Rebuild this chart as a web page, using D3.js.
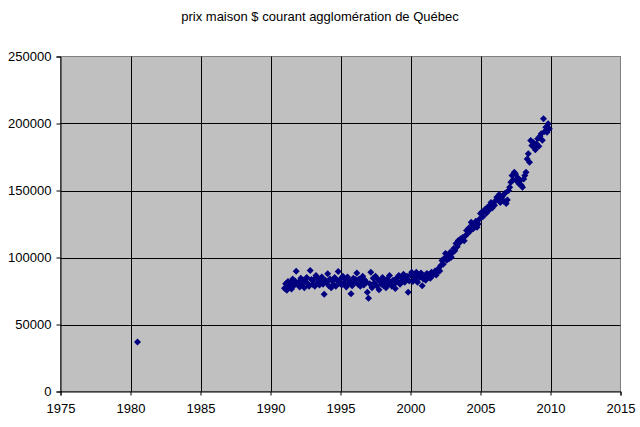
<!DOCTYPE html>
<html>
<head>
<meta charset="utf-8">
<script src="https://cdn.jsdelivr.net/npm/d3@7"></script>
<style>
    body { margin: 0; background: #fff; }
    svg { display: block; font-family: "Liberation Sans", Arial, sans-serif; }
</style>
</head>
<body>
<div id="chart"></div>
<script>
// Chart size
const width = 640;
const height = 427;
const margin = { top: 56, right: 20, bottom: 36, left: 60 };

// Data: one isolated point, then monthly prices from January 1991
const earlyYears = [1980.5];
const earlyPrices = [37000];

const startYear = 1991;
const prices = [
    // 1991
    77000, 80500, 75500, 82000, 78500, 81000, 76500, 84000, 79000, 82500, 89800, 80000,
    // 1992
    81500, 78000, 84500, 79500, 83000, 77500, 82000, 85000, 80500, 78500, 90300, 83500,
    // 1993
    80000, 83500, 78500, 86500, 81000, 84000, 79500, 82500, 85500, 80000, 72500, 83000,
    // 1994
    81500, 87800, 79000, 84000, 77500, 82500, 80000, 85000, 78500, 83000, 89500, 81000,
    // 1995
    84000, 79500, 86000, 81000, 83500, 78000, 85500, 80500, 82000, 72900, 79000, 84500,
    // 1996
    81000, 83500, 88500, 80000, 84000, 78500, 82500, 86000, 79500, 83000, 81500, 74000,
    // 1997
    69500, 80500, 89000, 77500, 84500, 81000, 86000, 79000, 83500, 76000, 82000, 80000,
    // 1998
    85000, 79000, 82500, 77500, 84000, 80500, 86500, 81500, 78500, 83000, 80000, 76800,
    // 1999
    84500, 82000, 86500, 80000, 85000, 83000, 87500, 81500, 84000, 86000, 74000, 82500,
    // 2000
    87000, 89000, 82000, 86000, 84000, 89000, 81500, 87000, 85000, 88500, 79000, 84000,
    // 2001
    86000, 83000, 88000, 85500, 87500, 84500, 89000, 86500, 88000, 90000, 87000, 89500,
    // 2002
    91800, 90000, 94000, 97700, 95000, 99500, 103000, 98000, 101500, 99000, 104000, 100200,
    // 2003
    103500, 106700, 105000, 110500, 108000, 112700, 111000, 114000, 113000, 115100, 112500, 116000,
    // 2004
    120100, 118000, 122000, 119500, 126300, 124500, 121600, 123900, 127000, 122500, 125000, 128500,
    // 2005
    132800, 133800, 130500, 134500, 136000, 133000, 137500, 135000, 138800, 141000, 137000, 140000,
    // 2006
    139000, 142500, 145000, 143500, 147000, 141000, 144500, 146000, 142000, 148000, 140300, 143000,
    // 2007
    150000, 152500, 156200, 161200, 158000, 163700, 162400, 157000, 159500, 155000, 157500, 154000,
    // 2008
    152500, 158500, 161200, 163700, 173600, 177400, 171000, 187300, 183500, 186000, 182300, 180500,
    // 2009
    184800, 188600, 183000, 190500, 192300, 187500, 203500, 194000, 197200, 193500, 199800, 196000
];

const xTicks = [1975, 1980, 1985, 1990, 1995, 2000, 2005, 2010, 2015];
const yTicks = [0, 50000, 100000, 150000, 200000, 250000];

const points = earlyYears.map((yr, i) => ({ year: yr, price: earlyPrices[i] }))
    .concat(prices.map((p, i) => ({ year: startYear + i / 12, price: p })));

// Colours
const COLORS = {
    plot: "#c0c0c0",
    grid: "#000000",
    border: "#808080",
    marker: "#000080",
    text: "#000000"
};

const svg = d3.select("#chart")
    .append("svg")
    .attr("width", width)
    .attr("height", height);

const x = d3.scaleLinear()
    .domain([1975, 2015])
    .range([margin.left + 0.5, width - margin.right + 0.5]);

const y = d3.scaleLinear()
    .domain([0, 250000])
    .range([height - margin.bottom + 0.5, margin.top + 0.5]);

// Plot background
svg.append("rect")
    .attr("x", x(1975))
    .attr("y", y(250000))
    .attr("width", x(2015) - x(1975))
    .attr("height", y(0) - y(250000))
    .attr("fill", COLORS.plot)
    .attr("stroke", COLORS.border)
    .attr("stroke-width", 1);

// Gridlines
svg.append("g")
    .selectAll("line")
    .data(yTicks.filter(d => d > 0 && d < 250000))
    .join("line")
    .attr("x1", x(1975))
    .attr("x2", x(2015))
    .attr("y1", d => Math.round(y(d)) + 0.5)
    .attr("y2", d => Math.round(y(d)) + 0.5)
    .attr("stroke", COLORS.grid)
    .attr("stroke-width", 1);

svg.append("g")
    .selectAll("line")
    .data(xTicks.filter(d => d > 1975 && d < 2015))
    .join("line")
    .attr("x1", d => Math.round(x(d)) + 0.5)
    .attr("x2", d => Math.round(x(d)) + 0.5)
    .attr("y1", y(250000))
    .attr("y2", y(0))
    .attr("stroke", COLORS.grid)
    .attr("stroke-width", 1);

// Axes
const xAxis = d3.axisBottom(x)
    .tickValues(xTicks)
    .tickFormat(d3.format("d"))
    .tickSize(4)
    .tickPadding(8);

const yAxis = d3.axisLeft(y)
    .tickValues(yTicks)
    .tickFormat(d3.format("d"))
    .tickSize(4)
    .tickPadding(5);

const gx = svg.append("g")
    .attr("transform", `translate(0,${Math.round(y(0)) - 0.5})`)
    .call(xAxis);

const gy = svg.append("g")
    .attr("transform", `translate(${Math.round(x(1975)) - 0.5},0)`)
    .call(yAxis);

[gx, gy].forEach(g => {
    g.select(".domain").attr("stroke", COLORS.text);
    g.selectAll(".tick line").attr("stroke", COLORS.text);
    g.selectAll(".tick text")
        .attr("fill", COLORS.text)
        .style("font-size", "13px")
        .style("font-family", "'Liberation Sans', Arial, sans-serif");
});

// Markers
const diamond = "M0,-3.5L3.5,0L0,3.5L-3.5,0Z";

svg.append("g")
    .selectAll("path")
    .data(points)
    .join("path")
    .attr("d", diamond)
    .attr("transform", d => `translate(${x(d.year)},${y(d.price)})`)
    .attr("fill", COLORS.marker);

// Title
svg.append("text")
    .attr("x", width / 2)
    .attr("y", 21)
    .attr("text-anchor", "middle")
    .attr("fill", COLORS.text)
    .style("font-size", "13px")
    .text("prix maison $ courant agglomération de Québec");
</script>
</body>
</html>
